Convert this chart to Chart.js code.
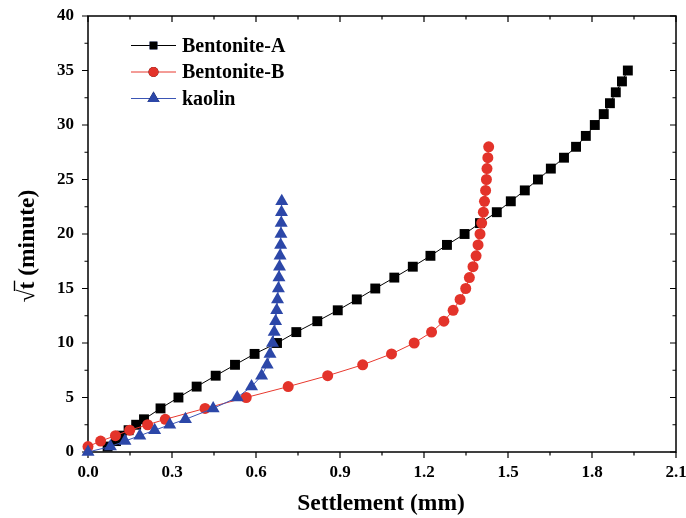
<!DOCTYPE html>
<html lang="en">
<head>
<meta charset="UTF-8">
<title>Settlement</title>
<script src="https://cdn.jsdelivr.net/npm/chart.js"></script>
<style>
  html, body { margin: 0; padding: 0; background: #fff; }
  .grafico { width: 686px; height: 518px; }
</style>
</head>
<body>
<div class="grafico"><canvas id="myChart" width="686" height="518"></canvas></div>
<script>
// Bentonite-A
const aSettle = [0.07, 0.10, 0.12, 0.145, 0.172, 0.20, 0.259, 0.323, 0.388, 0.456, 0.525, 0.595, 0.675, 0.744, 0.819,
  0.892, 0.960, 1.026, 1.094, 1.160, 1.223, 1.282, 1.345, 1.400, 1.460, 1.510, 1.560, 1.607, 1.653, 1.700,
  1.743, 1.778, 1.810, 1.842, 1.864, 1.885, 1.907, 1.928];
const aTime = [0.5, 1, 1.5, 2, 2.5, 3, 4, 5, 6, 7, 8, 9, 10, 11, 12, 13, 14, 15, 16, 17, 18, 19, 20, 21, 22,
  23, 24, 25, 26, 27, 28, 29, 30, 31, 32, 33, 34, 35];

// Bentonite-B
const bSettle = [0.0, 0.045, 0.098, 0.149, 0.213, 0.276, 0.418, 0.565, 0.715, 0.856, 0.981, 1.084, 1.165, 1.227,
  1.271, 1.304, 1.329, 1.349, 1.362, 1.375, 1.386, 1.393, 1.400, 1.406, 1.412, 1.416, 1.420, 1.423, 1.425,
  1.428, 1.431];
const bTime = [0.5, 1, 1.5, 2, 2.5, 3, 4, 5, 6, 7, 8, 9, 10, 11, 12, 13, 14, 15, 16, 17, 18, 19, 20, 21, 22,
  23, 24, 25, 26, 27, 28];

// kaolin
const kSettle = [0.0, 0.080, 0.132, 0.185, 0.238, 0.292, 0.348, 0.447, 0.533, 0.584, 0.620, 0.640, 0.650, 0.659,
  0.665, 0.670, 0.674, 0.677, 0.680, 0.682, 0.684, 0.686, 0.688, 0.689, 0.690, 0.691, 0.692];
const kTime = [0, 0.5, 1, 1.5, 2, 2.5, 3, 4, 5, 6, 7, 8, 9, 10, 11, 12, 13, 14, 15, 16, 17, 18, 19, 20, 21,
  22, 23];

const xTicks = [0, 0.3, 0.6, 0.9, 1.2, 1.5, 1.8, 2.1];
const yTicks = [0, 5, 10, 15, 20, 25, 30, 35, 40];

const fonte = 'Liberation Serif, Times New Roman, serif';

const pontos = (xs, ys) => xs.map((v, i) => ({ x: v, y: ys[i] }));

// moldura, ticks, titulos e legenda desenhados a mao (estilo Origin)
const eixos = {
  id: 'eixos',
  beforeDatasetsDraw(chart) {
    const c = chart.ctx;
    const a = chart.chartArea;
    const sx = chart.scales.x, sy = chart.scales.y;
    c.save();
    c.strokeStyle = '#000';
    c.lineWidth = 1.5;
    c.strokeRect(a.left, a.top, a.right - a.left, a.bottom - a.top);
    c.lineWidth = 1.2;
    c.beginPath();
    for (let i = 0; i < xTicks.length; i++) {
      const px = sx.getPixelForValue(xTicks[i]);
      c.moveTo(px, a.bottom); c.lineTo(px, a.bottom + 6);
      c.moveTo(px, a.top); c.lineTo(px, a.top + 6);
      if (i < xTicks.length - 1) {
        const pm = sx.getPixelForValue((xTicks[i] + xTicks[i + 1]) / 2);
        c.moveTo(pm, a.bottom); c.lineTo(pm, a.bottom + 3.5);
        c.moveTo(pm, a.top); c.lineTo(pm, a.top + 3.5);
      }
    }
    for (let i = 0; i < yTicks.length; i++) {
      const py = sy.getPixelForValue(yTicks[i]);
      c.moveTo(a.left, py); c.lineTo(a.left - 6, py);
      c.moveTo(a.right, py); c.lineTo(a.right - 6, py);
      if (i < yTicks.length - 1) {
        const pm = sy.getPixelForValue((yTicks[i] + yTicks[i + 1]) / 2);
        c.moveTo(a.left, pm); c.lineTo(a.left - 3.5, pm);
        c.moveTo(a.right, pm); c.lineTo(a.right - 3.5, pm);
      }
    }
    c.stroke();

    // titulo X
    c.fillStyle = '#000';
    c.font = 'bold 23.5px ' + fonte;
    c.textAlign = 'center';
    c.textBaseline = 'middle';
    c.fillText('Settlement (mm)', 381, 504);

    // titulo Y com raiz e barra sobre o t
    c.translate(26, 246);
    c.rotate(-Math.PI / 2);
    c.textAlign = 'left';
    c.textBaseline = 'alphabetic';
    const raiz = '√', letra = 't', resto = ' (minute)';
    const w1 = c.measureText(raiz).width, w2 = c.measureText(letra).width, w3 = c.measureText(resto).width;
    const x0 = -(w1 + w2 + w3) / 2;
    c.fillText(raiz, x0, 8);
    c.fillText(letra, x0 + w1, 8);
    c.fillText(resto, x0 + w1 + w2, 8);
    c.lineWidth = 1.4;
    c.beginPath();
    c.moveTo(x0 + w1 - 1.5, -11.5);
    c.lineTo(x0 + w1 + w2 + 1, -11.5);
    c.stroke();
    c.restore();
  },
  afterDatasetsDraw(chart) {
    const c = chart.ctx;
    const linhas = [45.5, 72, 98.5];
    const raios = [5.5, 5, 7];
    c.save();
    chart.data.datasets.forEach((ds, i) => {
      const y = linhas[i];
      c.strokeStyle = ds.borderColor;
      c.lineWidth = 1;
      c.beginPath();
      c.moveTo(131, y); c.lineTo(176, y);
      c.stroke();
      Chart.helpers.drawPoint(c, {
        pointStyle: ds.pointStyle, radius: raios[i], borderWidth: 0, rotation: 0
      }, 153.5, y);
      c.fillStyle = ds.pointBackgroundColor;
      c.fill();
      c.fillStyle = '#000';
      c.font = 'bold 20px ' + fonte;
      c.textAlign = 'left';
      c.textBaseline = 'middle';
      c.fillText(ds.label, 182, y + 1);
    });
    c.restore();
  }
};

new Chart(document.getElementById('myChart'), {
  type: 'scatter',
  data: {
    datasets: [
      {
        label: 'Bentonite-A',
        data: pontos(aSettle, aTime),
        showLine: true,
        borderColor: '#000000',
        borderWidth: 1,
        pointStyle: 'rect',
        pointRadius: 7,
        pointBackgroundColor: '#000000',
        pointBorderWidth: 0,
        order: 3,
        clip: false
      },
      {
        label: 'Bentonite-B',
        data: pontos(bSettle, bTime),
        showLine: true,
        borderColor: '#e8392e',
        borderWidth: 1,
        pointStyle: 'circle',
        pointRadius: 5.5,
        pointBackgroundColor: '#e3332a',
        pointBorderWidth: 0,
        order: 2,
        clip: false
      },
      {
        label: 'kaolin',
        data: pontos(kSettle, kTime),
        showLine: true,
        borderColor: '#3b55b5',
        borderWidth: 1,
        pointStyle: 'triangle',
        pointRadius: 7.5,
        pointBackgroundColor: '#2c47a8',
        pointBorderWidth: 0,
        order: 1,
        clip: false
      }
    ]
  },
  options: {
    responsive: false,
    animation: false,
    layout: { padding: { left: 0, top: 16, right: 10, bottom: 0 } },
    plugins: {
      legend: { display: false },
      tooltip: { enabled: false }
    },
    scales: {
      x: {
        type: 'linear',
        min: 0,
        max: 2.1,
        afterBuildTicks: (s) => { s.ticks = xTicks.map(v => ({ value: v })); },
        afterFit: (s) => { s.height = 66; s.paddingRight = 0; s.paddingLeft = 0; },
        grid: { display: false, drawTicks: false },
        border: { display: false },
        ticks: {
          padding: 10,
          color: '#000',
          font: { family: fonte, size: 17, weight: 'bold' },
          callback: (v) => Number(v).toFixed(1)
        }
      },
      y: {
        type: 'linear',
        min: 0,
        max: 40,
        afterBuildTicks: (s) => { s.ticks = yTicks.map(v => ({ value: v })); },
        afterFit: (s) => { s.width = 88; s.paddingTop = 0; s.paddingBottom = 0; },
        grid: { display: false, drawTicks: false },
        border: { display: false },
        ticks: {
          padding: 14,
          color: '#000',
          font: { family: fonte, size: 17, weight: 'bold' }
        }
      }
    }
  },
  plugins: [eixos]
});
</script>
</body>
</html>
